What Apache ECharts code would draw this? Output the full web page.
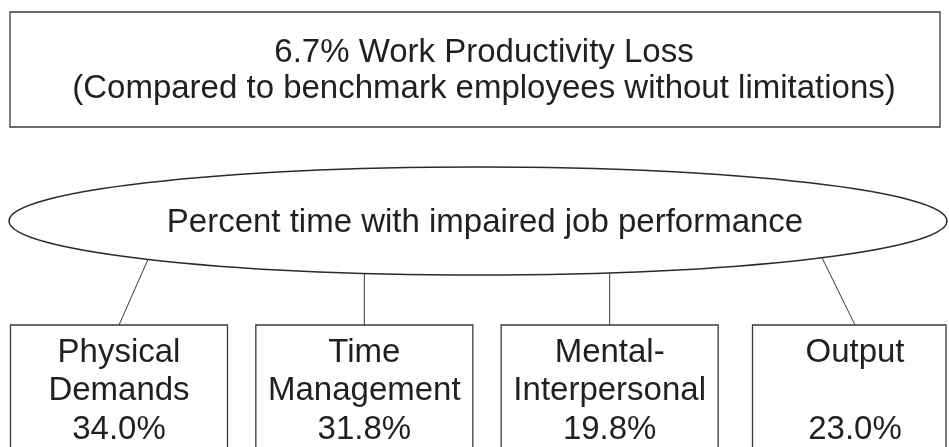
<!DOCTYPE html>
<html>
<head>
<meta charset="utf-8">
<script src="https://cdn.jsdelivr.net/npm/echarts@6/dist/echarts.min.js"></script>
<style>
html,body{margin:0;padding:0;background:#fff;}
#chart{width:949px;height:447px;}
</style>
</head>
<body>
<div id="chart"></div>
<script>
// ---- data ----
var titleLines = ['6.7% Work Productivity Loss', '(Compared to benchmark employees without limitations)'];
var hubLabel = 'Percent time with impaired job performance';
var categories = ['Physical Demands', 'Time Management', 'Mental-Interpersonal', 'Output'];
var labelLine1 = ['Physical', 'Time', 'Mental-', 'Output'];
var labelLine2 = ['Demands', 'Management', 'Interpersonal', ''];
var values = [34.0, 31.8, 19.8, 23.0];

// ---- layout / style ----
var W = 949, H = 447;
var FONT = '33px "Liberation Sans", Arial, sans-serif';
var INK = '#231f20';
var ell = {cx: 478, cy: 221, rx: 469, ry: 54};
var boxTop = 325, boxW = 217, boxLineH = 38.5;

function ellipseBottomY(x) {
  var t = (x - ell.cx) / ell.rx;
  return ell.cy + ell.ry * Math.sqrt(Math.max(0, 1 - t * t));
}

var chart = echarts.init(document.getElementById('chart'), null, {renderer: 'canvas'});

var seriesData = categories.map(function (c, i) { return [i, values[i]]; });

chart.setOption({
  animation: false,
  backgroundColor: '#ffffff',
  grid: {left: 119, right: 94, top: 0, bottom: 0},
  xAxis: {type: 'category', data: categories, boundaryGap: false, show: false},
  yAxis: {type: 'value', min: 0, max: 100, show: false},
  graphic: [
    {type: 'rect', shape: {x: 10, y: 12, width: 930, height: 115},
     style: {fill: '#fff', stroke: '#3a3a3a', lineWidth: 1.3}},
    {type: 'text', x: 484, y: 53,
     style: {text: titleLines[0], font: FONT, fill: INK, align: 'center', verticalAlign: 'middle'}},
    {type: 'text', x: 484, y: 89,
     style: {text: titleLines[1], font: FONT, fill: INK, align: 'center', verticalAlign: 'middle'}},
    {type: 'ellipse', shape: ell,
     style: {fill: '#fff', stroke: '#2a2a2a', lineWidth: 1.5}},
    {type: 'text', x: 485, y: 223,
     style: {text: hubLabel, font: FONT, fill: INK, align: 'center', verticalAlign: 'middle'}}
  ],
  series: [{
    type: 'custom',
    clip: false,
    data: seriesData,
    renderItem: function (params, api) {
      var idx = api.value(0);
      var pt = api.coord([idx, 0]);
      var cx = pt[0];
      var n = categories.length;
      var left = cx - boxW / 2, right = cx + boxW / 2;
      if (right > W - 3) { right = W - 3; left = cx - (boxW / 2 - 6); }
      var topX = cx;
      if (idx === 0) topX = cx + 29;
      if (idx === n - 1) topX = cx - 33;
      var topY = ellipseBottomY(topX);
      var txt = labelLine1[idx] + '\n' + labelLine2[idx] + '\n' + api.value(1).toFixed(1) + '%';
      return {
        type: 'group',
        children: [
          {type: 'line', shape: {x1: topX, y1: topY, x2: cx, y2: boxTop},
           style: {stroke: '#3a3a3a', lineWidth: 1}},
          {type: 'rect', shape: {x: left, y: boxTop, width: right - left, height: 140},
           style: {fill: '#fff', stroke: '#3a3a3a', lineWidth: 1.3}},
          {type: 'text', x: cx, y: 391,
           style: {text: txt, font: FONT, fill: INK, align: 'center', verticalAlign: 'middle', lineHeight: boxLineH}}
        ]
      };
    }
  }]
});
</script>
</body>
</html>
